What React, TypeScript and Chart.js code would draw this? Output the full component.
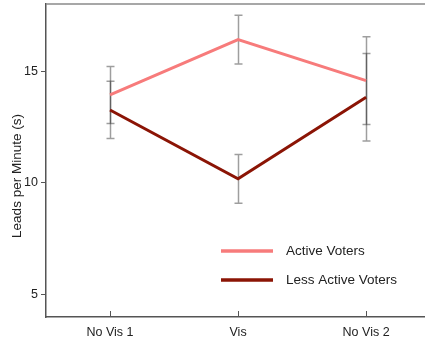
import React, { useEffect, useRef } from "react";
import { Chart, registerables } from "chart.js";

Chart.register(...registerables);

const categories = ["No Vis 1", "Vis", "No Vis 2"];
const activeVoters = [13.93, 16.41, 14.57];
const activeErr = [1.27, 1.09, 1.96];
const lessActiveVoters = [13.26, 10.18, 13.83];
const lessActiveErr = [1.28, 1.09, 1.96];
const yTicks = [5, 10, 15];
const yTitle = "Leads per Minute (s)";
const seriesLabels = ["Active Voters", "Less Active Voters"];
const seriesColors = ["#f77b7b", "#8b1405"];

const FONT = "'Liberation Sans', Arial, sans-serif";

export default function App() {
  const ref = useRef<HTMLCanvasElement>(null);

  useEffect(() => {
    const canvas = ref.current;
    if (!canvas) return;
    const errs = [activeErr, lessActiveErr];

    const errorBars = {
      id: "errorBars",
      beforeDatasetsDraw(chart: any) {
        const ctx = chart.ctx;
        const ys = chart.scales.y;
        ctx.save();
        ctx.strokeStyle = "rgba(0,0,0,0.38)";
        ctx.lineWidth = 1.5;
        chart.data.datasets.forEach((ds: any, di: number) => {
          const meta = chart.getDatasetMeta(di);
          meta.data.forEach((pt: any, i: number) => {
            const v = ds.data[i].y;
            const e = errs[di][i];
            const x = Math.round(pt.x) + 0.5;
            const y1 = ys.getPixelForValue(v + e);
            const y2 = ys.getPixelForValue(v - e);
            ctx.beginPath();
            ctx.moveTo(x, y1);
            ctx.lineTo(x, y2);
            ctx.moveTo(x - 4, y1);
            ctx.lineTo(x + 4, y1);
            ctx.moveTo(x - 4, y2);
            ctx.lineTo(x + 4, y2);
            ctx.stroke();
          });
        });
        ctx.restore();
      },
    };

    const decor = {
      id: "decor",
      afterDraw(chart: any) {
        const ctx = chart.ctx;
        const ca = chart.chartArea;
        const xs = chart.scales.x;
        ctx.save();
        // top border
        ctx.strokeStyle = "#8a8a8a";
        ctx.lineWidth = 1.5;
        ctx.beginPath();
        ctx.moveTo(ca.left, ca.top);
        ctx.lineTo(chart.width, ca.top);
        ctx.stroke();
        // inward x ticks
        ctx.strokeStyle = "#555";
        ctx.lineWidth = 1;
        xs.ticks.forEach((t: any) => {
          const x = Math.round(xs.getPixelForValue(t.value)) + 0.5;
          ctx.beginPath();
          ctx.moveTo(x, ca.bottom);
          ctx.lineTo(x, ca.bottom - 6);
          ctx.stroke();
        });
        // y title
        ctx.fillStyle = "#222";
        ctx.font = `13.5px ${FONT}`;
        ctx.textAlign = "center";
        ctx.textBaseline = "middle";
        ctx.translate(17, 176);
        ctx.rotate(-Math.PI / 2);
        ctx.fillText(yTitle, 0, 0);
        ctx.restore();

        // legend
        ctx.save();
        const lx1 = ca.left + 175;
        const lx2 = ca.left + 227;
        const rowY = [251, 280];
        chart.data.datasets.forEach((ds: any, i: number) => {
          ctx.strokeStyle = ds.borderColor;
          ctx.lineWidth = 3.5;
          ctx.beginPath();
          ctx.moveTo(lx1, rowY[i]);
          ctx.lineTo(lx2, rowY[i]);
          ctx.stroke();
          ctx.fillStyle = "#222";
          ctx.font = `13.5px ${FONT}`;
          ctx.textAlign = "left";
          ctx.textBaseline = "middle";
          ctx.fillText(ds.label, ca.left + 240, rowY[i]);
        });
        ctx.restore();
      },
    };

    const chart = new Chart(canvas, {
      type: "line",
      data: {
        datasets: [
          {
            label: seriesLabels[0],
            data: activeVoters.map((v, i) => ({ x: i, y: v })),
            borderColor: seriesColors[0],
            borderWidth: 3,
            pointRadius: 0,
            tension: 0,
          },
          {
            label: seriesLabels[1],
            data: lessActiveVoters.map((v, i) => ({ x: i, y: v })),
            borderColor: seriesColors[1],
            borderWidth: 3,
            pointRadius: 0,
            tension: 0,
          },
        ],
      },
      options: {
        animation: false,
        responsive: false,
        maintainAspectRatio: false,
        layout: { padding: { top: 4, right: 0, left: 0, bottom: 0 } },
        plugins: { legend: { display: false }, tooltip: { enabled: false } },
        scales: {
          x: {
            type: "linear",
            min: -0.5,
            max: 2.46,
            afterBuildTicks: (s: any) => {
              s.ticks = categories.map((_, i) => ({ value: i }));
            },
            afterFit: (s: any) => {
              s.height = 24;
              s.paddingLeft = 0;
              s.paddingRight = 0;
            },
            grid: { display: true, drawOnChartArea: false, drawTicks: false },
            border: { display: true, color: "#555", width: 1.5 },
            ticks: {
              padding: 8,
              color: "#222",
              font: { family: FONT, size: 12.5 },
              callback: (v: any) => categories[Math.round(Number(v))] ?? "",
              maxRotation: 0,
            },
          },
          y: {
            min: 4,
            max: 18,
            afterBuildTicks: (s: any) => {
              s.ticks = yTicks.map((v) => ({ value: v }));
            },
            afterFit: (s: any) => {
              s.width = 46;
              s.paddingTop = 0;
              s.paddingBottom = 0;
            },
            grid: { display: true, drawOnChartArea: false, drawTicks: true, tickLength: 5, color: "#555" },
            border: { display: true, color: "#555", width: 1.5 },
            ticks: {
              padding: 3,
              color: "#222",
              font: { family: FONT, size: 12.5 },
            },
          },
        },
      },
      plugins: [errorBars, decor],
    });
    return () => chart.destroy();
  }, []);

  return (
    <div style={{ position: "fixed", left: 0, top: 0, width: 425, height: 341, background: "#fff" }}>
      <canvas ref={ref} width={425} height={341} style={{ width: 425, height: 341 }} />
    </div>
  );
}
